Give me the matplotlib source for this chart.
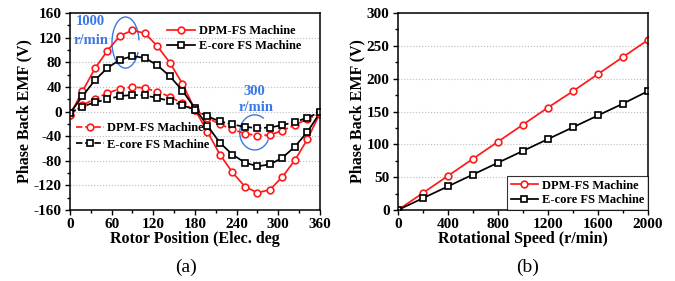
import numpy as np
import matplotlib
matplotlib.use('Agg')
import matplotlib.pyplot as plt
from matplotlib.patches import Arc
from matplotlib.ticker import MultipleLocator

plt.rcParams['font.family'] = 'Liberation Serif'
plt.rcParams['font.weight'] = 'bold'
plt.rcParams['axes.unicode_minus'] = False

# panel (a): back EMF vs rotor position
pos = [0, 18, 36, 54, 72, 90, 108, 126, 144, 162, 180,
       198, 216, 234, 252, 270, 288, 306, 324, 342, 360]
dpm_1000 = [-5, 33, 70, 99, 123, 132, 127, 106, 79, 45, 3,
            -33, -70, -99, -122, -132, -127, -106, -79, -45, -3]
ecore_1000 = [-3, 25, 51, 71, 84, 90, 87, 75, 57, 34, 5,
              -23, -51, -70, -83, -89, -86, -75, -57, -33, -2]
dpm_300 = [-5, 10, 21, 30, 37, 40, 38, 32, 24, 13, 2,
           -10, -21, -29, -36, -39, -38, -31, -22, -12, -4]
ecore_300 = [-2, 8, 15, 20, 25, 27, 26, 22, 17, 10, 3,
             -8, -16, -21, -25, -27, -26, -22, -17, -10, -1]

# panel (b): back EMF vs speed
speed = [0, 200, 400, 600, 800, 1000, 1200, 1400, 1600, 1800, 2000]
dpm_speed = [0, 26, 52, 78, 104, 130, 156, 181, 207, 233, 259]
ecore_speed = [0, 18, 36, 54, 72, 90, 108, 126, 144, 162, 181]

red = '#ff1a1a'
blue = '#3b78e7'
mk = dict(markersize=4.8, markerfacecolor='white', markeredgewidth=1.2, linewidth=1.25)

fig = plt.figure(figsize=(6.75, 2.81), dpi=100)
ax1 = fig.add_axes([0.1037, 0.2527, 0.3703, 0.701])
ax2 = fig.add_axes([0.5896, 0.2527, 0.3704, 0.701])

def style(ax):
    ax.tick_params(which='both', direction='out', top=False, right=False, labelsize=11)
    ax.tick_params(which='major', length=3.5, width=1, pad=2.5)
    ax.tick_params(which='minor', length=2, width=1)
    ax.grid(axis='y', which='major', linestyle=':', color='#bbbbbb', linewidth=0.8)
    ax.set_axisbelow(True)
    for s in ax.spines.values():
        s.set_linewidth(1.1)
    for lab in ax.get_xticklabels() + ax.get_yticklabels():
        lab.set_fontweight('bold')

# (a)
l1, = ax1.plot(pos, dpm_1000, '-o', color=red, label='DPM-FS Machine', **mk)
l2, = ax1.plot(pos, ecore_1000, '-s', color='black', label='E-core FS Machine', **mk)
l3, = ax1.plot(pos, dpm_300, '--o', color=red, label='DPM-FS Machine', **mk)
l4, = ax1.plot(pos, ecore_300, '--s', color='black', label='E-core FS Machine', **mk)
ax1.set_xlim(0, 360)
ax1.set_ylim(-160, 160)
ax1.xaxis.set_major_locator(MultipleLocator(60))
ax1.xaxis.set_minor_locator(MultipleLocator(30))
ax1.yaxis.set_major_locator(MultipleLocator(40))
ax1.yaxis.set_minor_locator(MultipleLocator(20))
style(ax1)
ax1.set_xlabel('Rotor Position (Elec. deg', fontsize=11.5, fontweight='bold', labelpad=0)
ax1.set_ylabel('Phase Back EMF (V)', fontsize=11.5, fontweight='bold', labelpad=1)

leg_kw = dict(frameon=False, fontsize=9, handlelength=2.2, handletextpad=0.3,
              borderaxespad=0)
leg1 = ax1.legend(handles=[l1, l2], loc='upper left', bbox_to_anchor=(0.37, 0.965),
                  labelspacing=0.25, **leg_kw)
ax1.add_artist(leg1)
ax1.legend(handles=[l3, l4], loc='upper left', bbox_to_anchor=(0.005, 0.47),
           labelspacing=0.35, **leg_kw)

ax1.add_patch(Arc((80, 112), 39, 83, theta1=10, theta2=320, color=blue, linewidth=1.0))
ax1.add_patch(Arc((266, -34), 43, 57, theta1=60, theta2=330, color=blue, linewidth=1.0))
ax1.text(30, 146, '1000', color=blue, fontsize=10.5, fontweight='bold', ha='center', va='center')
ax1.text(31, 116, 'r/min', color=blue, fontsize=10.5, fontweight='bold', ha='center', va='center')
ax1.text(266, 32, '300', color=blue, fontsize=10.5, fontweight='bold', ha='center', va='center')
ax1.text(268, 6, 'r/min', color=blue, fontsize=10.5, fontweight='bold', ha='center', va='center')

# (b)
ax2.plot(speed, dpm_speed, '-o', color=red, label='DPM-FS Machine', **mk)
ax2.plot(speed, ecore_speed, '-s', color='black', label='E-core FS Machine', **mk)
ax2.set_xlim(0, 2000)
ax2.set_ylim(0, 300)
ax2.xaxis.set_major_locator(MultipleLocator(400))
ax2.xaxis.set_minor_locator(MultipleLocator(200))
ax2.yaxis.set_major_locator(MultipleLocator(50))
ax2.yaxis.set_minor_locator(MultipleLocator(25))
style(ax2)
ax2.set_xlabel('Rotational Speed (r/min)', fontsize=11.5, fontweight='bold', labelpad=0)
ax2.set_ylabel('Phase Back EMF (V)', fontsize=11.5, fontweight='bold', labelpad=1)
leg2 = ax2.legend(loc='lower right', fontsize=9, handlelength=2.2, handletextpad=0.3,
                  labelspacing=0.2, borderaxespad=0, borderpad=0.3,
                  fancybox=False, edgecolor='black')
leg2.get_frame().set_linewidth(0.8)

fig.text(0.276, 0.05, '(a)', fontsize=14, fontweight='normal', ha='center', va='center')
fig.text(0.781, 0.05, '(b)', fontsize=14, fontweight='normal', ha='center', va='center')

fig.savefig('out.png', dpi=100)
